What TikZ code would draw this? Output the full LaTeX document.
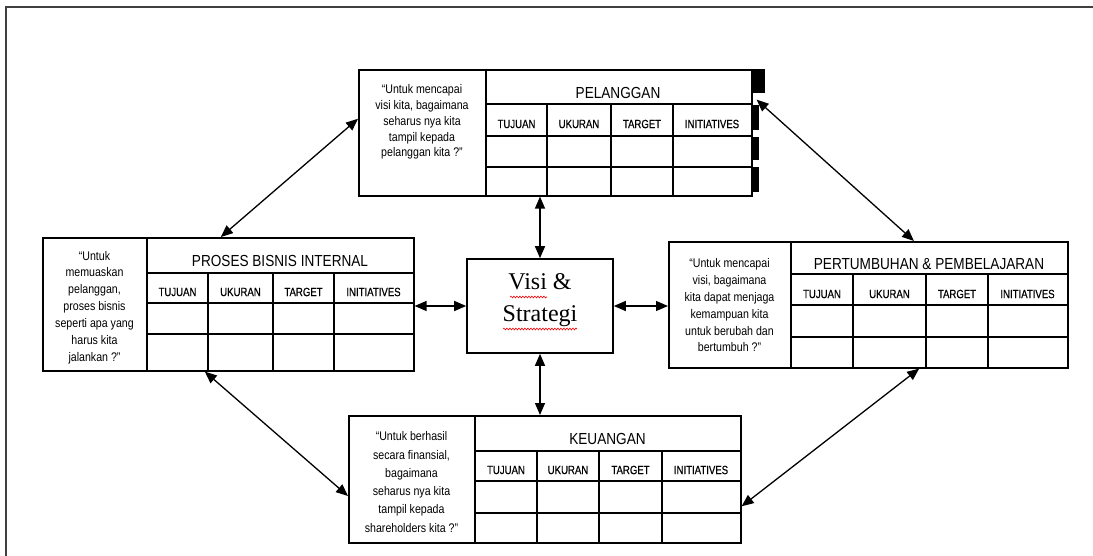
\documentclass[tikz,border=0pt]{standalone}
\usepackage{fontspec}
\setmainfont{Liberation Serif}
\newfontfamily\nsans[FakeStretch=0.85]{Liberation Sans}
\newfontfamily\nsansb[FakeStretch=0.8,FakeBold=0.6]{Liberation Sans}
\usetikzlibrary{arrows.meta,calc,decorations.pathmorphing}
\begin{document}
\begin{tikzpicture}[x=1pt,y=-1pt,
  box/.style={draw, line width=1.6pt, inner sep=0pt, anchor=north west},
  gridline/.style={line width=1.3pt},
  link/.style={line width=1.3pt, {Triangle[length=12pt,width=10pt]}-{Triangle[length=12pt,width=10pt]}},
  quote/.style={font=\nsans\fontsize{12.5}{#1}\selectfont, align=center, inner sep=0pt},
  ttl/.style={font=\nsans\fontsize{16}{18}\selectfont, inner sep=0pt},
  colh/.style={font=\nsansb\fontsize{12}{14}\selectfont, inner sep=0pt},
  blackmark/.style={fill=black},
  squig/.style={red, line width=0.6pt, decorate, decoration={snake, amplitude=0.9pt, segment length=3pt}},
  outerframe/.style={line width=2pt, black!75}]
\useasboundingbox (0,0) rectangle (1093,556);
\draw[outerframe] (6,556) -- (6,7) -- (1093,7);

% ---------- PELANGGAN ----------
\node[box, minimum width=393pt, minimum height=126pt] (pel) at (358,69) {};
\draw[gridline] (486,69) -- (486,195) (486,104) -- (751,104) (486,136) -- (751,136) (486,167) -- (751,167)
  (547,104) -- (547,195) (611,104) -- (611,195) (673,104) -- (673,195);
\node[quote=15.8pt] (pelq) at (422,122) {“Untuk mencapai\\visi kita, bagaimana\\seharus nya kita\\tampil kepada\\pelanggan kita ?”};
\node[ttl] (pelt) at (618,93) {PELANGGAN};
\foreach \x/\t [count=\i] in {516.5/TUJUAN,579/UKURAN,642/TARGET,712/INITIATIVES}
  \node[colh] (pelc\i) at (\x,124) {\t};
\fill[blackmark] (751,69) rectangle (765,93);
\fill[blackmark] (751,105) rectangle (759,130);
\fill[blackmark] (751,137) rectangle (759,160);
\fill[blackmark] (751,167) rectangle (759,192);

% ---------- PROSES BISNIS INTERNAL ----------
\node[box, minimum width=371pt, minimum height=133pt] (pro) at (42,237) {};
\draw[gridline] (147,237) -- (147,370) (147,273) -- (413,273) (147,303) -- (413,303) (147,334) -- (413,334)
  (208,273) -- (208,370) (273,273) -- (273,370) (334,273) -- (334,370);
\node[quote=16.9pt] (proq) at (94.5,307.5) {“Untuk\\memuaskan\\pelanggan,\\proses bisnis\\seperti apa yang\\harus kita\\jalankan ?”};
\node[ttl] (prot) at (280,261) {PROSES BISNIS INTERNAL};
\foreach \x/\t [count=\i] in {177.5/TUJUAN,240.5/UKURAN,303.5/TARGET,373.5/INITIATIVES}
  \node[colh] (proc\i) at (\x,292) {\t};

% ---------- PERTUMBUHAN & PEMBELAJARAN ----------
\node[box, minimum width=399pt, minimum height=126pt] (per) at (668,241) {};
\draw[gridline] (791,241) -- (791,367) (791,274) -- (1067,274) (791,305) -- (1067,305) (791,337) -- (1067,337)
  (853,274) -- (853,367) (926,274) -- (926,367) (988,274) -- (988,367);
\node[quote=16.8pt] (perq) at (729.5,305.5) {“Untuk mencapai\\visi, bagaimana\\kita dapat menjaga\\kemampuan kita\\untuk berubah dan\\bertumbuh ?”};
\node[ttl] (pert) at (929,264) {PERTUMBUHAN \& PEMBELAJARAN};
\foreach \x/\t [count=\i] in {822/TUJUAN,889.5/UKURAN,957/TARGET,1027.5/INITIATIVES}
  \node[colh] (perc\i) at (\x,294) {\t};

% ---------- KEUANGAN ----------
\node[box, minimum width=392pt, minimum height=127pt] (keu) at (348,415) {};
\draw[gridline] (475,415) -- (475,542) (475,451) -- (740,451) (475,481) -- (740,481) (475,513) -- (740,513)
  (537,451) -- (537,542) (599,451) -- (599,542) (662,451) -- (662,542);
\node[quote=18.3pt] (keuq) at (411.5,482) {“Untuk berhasil\\secara finansial,\\bagaimana\\seharus nya kita\\tampil kepada\\shareholders kita ?”};
\node[ttl] (keut) at (607.5,439) {KEUANGAN};
\foreach \x/\t [count=\i] in {506/TUJUAN,568/UKURAN,630.5/TARGET,701/INITIATIVES}
  \node[colh] (keuc\i) at (\x,470) {\t};

% ---------- VISI & STRATEGI ----------
\node[draw, line width=1.6pt, minimum width=146pt, minimum height=94pt] (visi) at (540,306) {};
\node[font=\fontsize{24}{30}\selectfont, anchor=base, inner sep=0pt] (visi1) at (540,290) {Visi \&};
\node[font=\fontsize{24}{30}\selectfont, anchor=base, inner sep=0pt] (visi2) at (540,322) {Strategi};
\draw[squig] (510,297) -- (547,297);
\draw[squig] (503,329) -- (577,329);

% ---------- CONNECTORS ----------
\draw[link] (pel.south -| visi.north) -- (visi.north);
\draw[link] (visi.south) -- (visi.south |- keu.north);
\draw[link] (visi.west -| pro.east) -- (visi.west);
\draw[link] (visi.east) -- (visi.east -| per.west);
\draw[link] ($(pro.north west)!0.48!(pro.north east)$) -- ($(pel.north west)!0.39!(pel.south west)$);
\draw[link] ($(pel.north east)!0.24!(pel.south east)+(4,0)$) -- ($(per.north west)!0.614!(per.north east)$);
\draw[link] ($(pro.south west)!0.437!(pro.south east)$) -- ($(keu.north west)!0.63!(keu.south west)$);
\draw[link] ($(per.south west)!0.627!(per.south east)$) -- ($(keu.north east)!0.71!(keu.south east)$);
\end{tikzpicture}
\end{document}
